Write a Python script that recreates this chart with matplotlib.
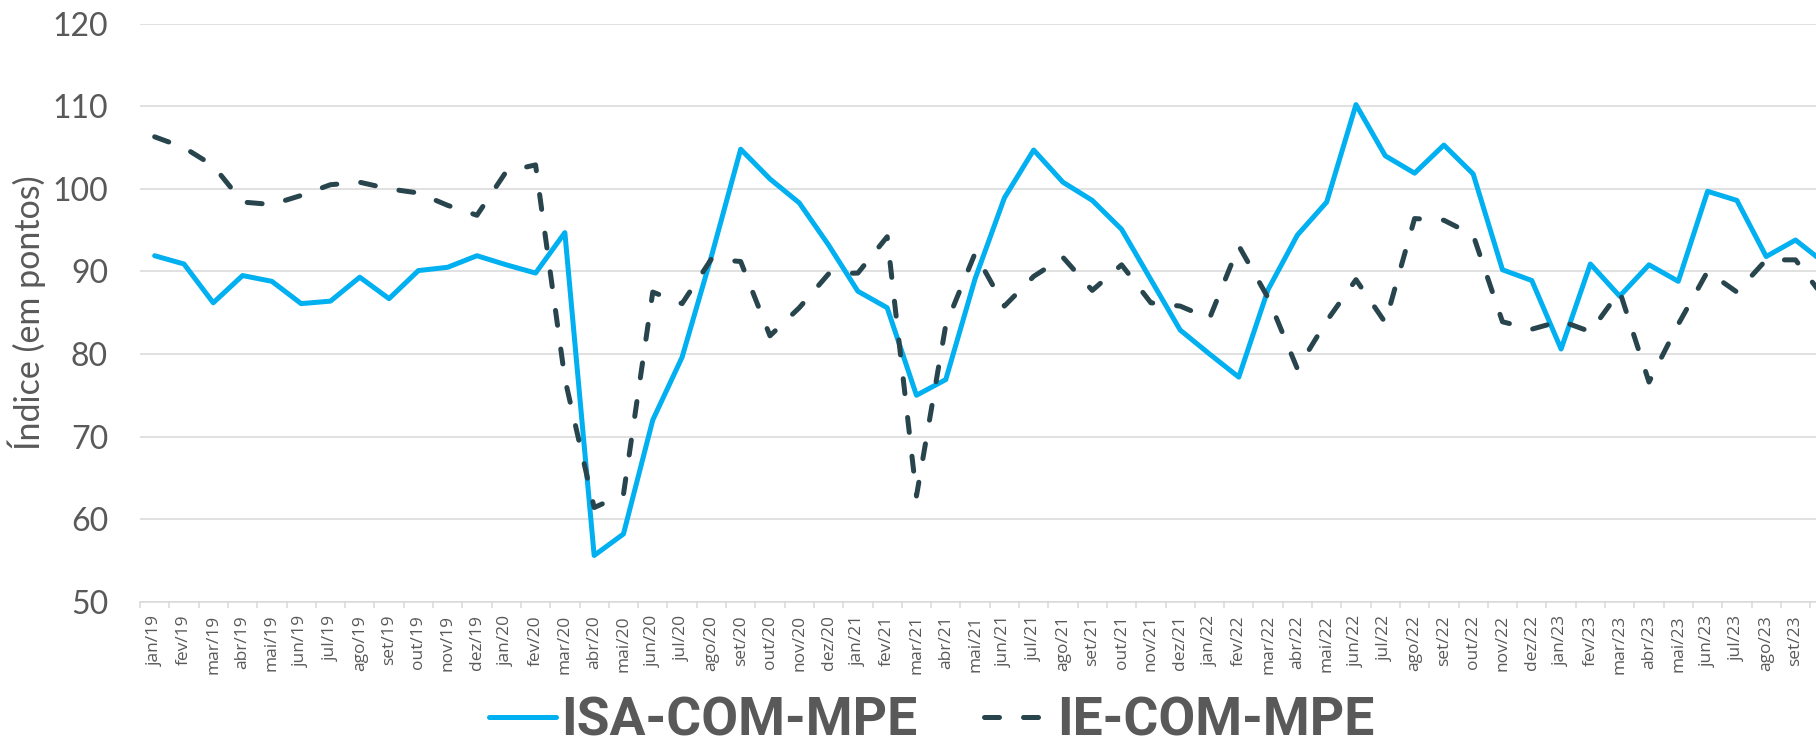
import numpy as np
import matplotlib
matplotlib.use("Agg")
import matplotlib.pyplot as plt
from matplotlib.font_manager import FontProperties

# Rótulos mensais (jan/19 a out/23 - o último fica cortado na borda)
abrev = ['jan', 'fev', 'mar', 'abr', 'mai', 'jun', 'jul', 'ago', 'set', 'out', 'nov', 'dez']
anos = ['19', '20', '21', '22', '23']
meses = [f'{m}/{a}' for a in anos for m in abrev][:58]

# ISA-COM-MPE (linha azul contínua)
isa = [91.9, 90.9, 86.2, 89.5, 88.8, 86.1, 86.4, 89.3, 86.7, 90.1, 90.5, 91.9,
       90.8, 89.8, 94.7, 55.6, 58.2, 72.0, 79.6, 91.8, 104.8, 101.2, 98.3, 93.2,
       87.6, 85.6, 75.0, 76.9, 89.1, 98.9, 104.7, 100.8, 98.6, 95.1, 89.0, 82.9,
       80.0, 77.2, 87.8, 94.4, 98.4, 110.2, 104.0, 101.9, 105.3, 101.8, 90.2, 88.9,
       80.6, 90.9, 87.0, 90.8, 88.8, 99.7, 98.6, 91.8, 93.8, 91.0]

# IE-COM-MPE (linha tracejada escura)
ie = [106.3, 105.0, 102.8, 98.4, 98.1, 99.2, 100.5, 100.8, 100.0, 99.5, 98.0, 96.8,
      102.1, 102.9, 77.0, 61.4, 63.0, 87.5, 86.1, 91.5, 91.2, 82.2, 85.6, 89.7,
      89.8, 94.2, 62.8, 83.5, 92.2, 85.8, 89.4, 91.7, 87.7, 90.8, 86.2, 85.8,
      84.3, 93.1, 86.8, 78.2, 84.0, 89.0, 83.8, 96.4, 96.2, 94.4, 83.9, 83.0,
      84.0, 82.7, 87.6, 76.6, 83.6, 90.0, 87.5, 91.4, 91.4, 86.7]

COR_AZUL = '#00B0F0'
COR_ESCURA = '#28444D'
COR_TEXTO = '#595959'
COR_GRADE = '#D9D9D9'

plt.rcParams['font.family'] = ['Lato', 'DejaVu Sans']

fig = plt.figure(figsize=(18.16, 7.48), dpi=100)
ax = fig.add_axes([140 / 1816, 1 - 601.7 / 748, 1676 / 1816, 578 / 748])

x = np.arange(len(meses))
l1, = ax.plot(x, isa, color=COR_AZUL, lw=3.6, solid_capstyle='round',
              solid_joinstyle='round', label='ISA-COM-MPE')
l2, = ax.plot(x, ie, color=COR_ESCURA, lw=3.6, linestyle=(0, (3.0, 4.8)),
              dash_capstyle='round', dash_joinstyle='round', label='IE-COM-MPE')

# eixo y
ax.set_yticks(range(50, 121, 10))
ax.tick_params(axis='y', length=0, pad=23, labelsize=23, labelcolor=COR_TEXTO)
ax.yaxis.grid(True, color=COR_GRADE, lw=1.1)
ax.set_axisbelow(True)
ax.set_ylabel('Índice (em pontos)', fontsize=24.5, color=COR_TEXTO)
ax.yaxis.set_label_coords(-0.056, 0.5)

# eixo x: rótulos nas categorias, marcas nas divisões
ax.set_xticks(x)
ax.set_xticklabels(meses, rotation=90, fontsize=12.5, color=COR_TEXTO,
                   family=['Open Sans', 'DejaVu Sans'])
ax.set_xticks(np.arange(-0.5, len(meses), 1), minor=True)
ax.tick_params(axis='x', which='major', length=0, pad=9.5)
ax.tick_params(axis='x', which='minor', length=4.3, width=1.1, color=COR_GRADE)

# limites depois dos ticks (set_xticks expande a vista)
ax.set_xlim(-0.5, 56.7)
ax.set_ylim(50, 120)

for lado in ['top', 'right', 'left']:
    ax.spines[lado].set_visible(False)
ax.spines['bottom'].set_color(COR_GRADE)
ax.spines['bottom'].set_linewidth(1.1)

leg = fig.legend(handles=[l1, l2], loc='center', bbox_to_anchor=(0.513, 0.036),
                 ncol=2, frameon=False,
                 prop=FontProperties(family='Roboto', weight='bold', size=38.5),
                 handlelength=1.25, handletextpad=0.1, columnspacing=1.25,
                 borderpad=0, borderaxespad=0)
for t in leg.get_texts():
    t.set_color(COR_TEXTO)

fig.savefig('out.png', dpi=100)
